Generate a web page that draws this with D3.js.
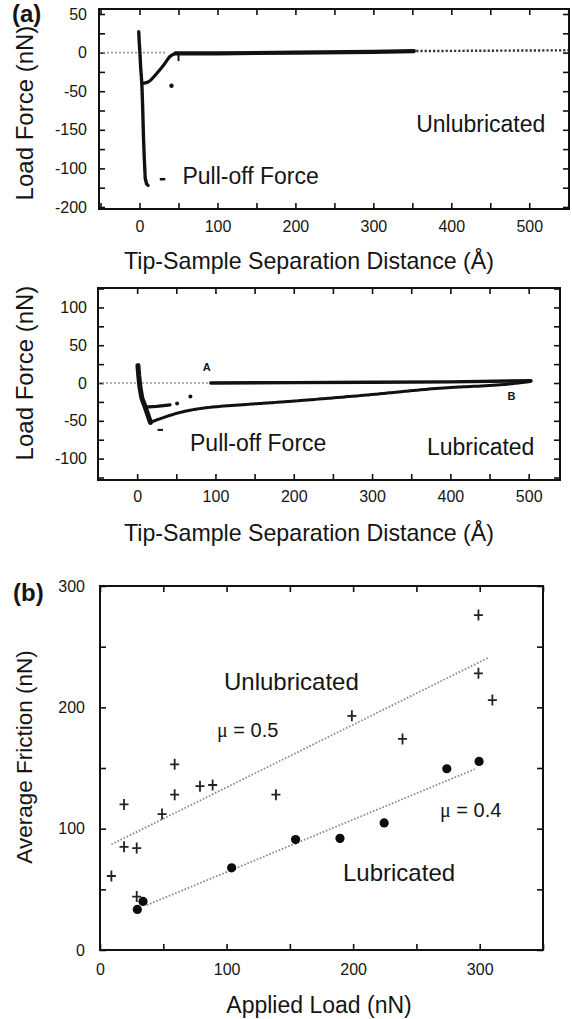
<!DOCTYPE html>
<html><head><meta charset="utf-8">
<script src="https://cdn.jsdelivr.net/npm/d3@7"></script>
<style>
body{margin:0;background:#fff}
svg{display:block}
text{font-family:Arial,"Liberation Sans",sans-serif;fill:#151515}
</style>
</head><body>
<svg id="c" width="572" height="1019"></svg>
<script>
// ---------------- DATA ----------------
// Panel (a) top: unlubricated force-distance curve
const aXTickLabels = [0, 100, 200, 300, 400, 500];
const aXTickValues = [-50, 0, 50, 100, 150, 200, 250, 300, 350, 400, 450, 500, 550];
const aYTickValues = [50, 0, -50, -100, -150, -200];
const aYTickLabels = ["50", "0", "-50", "-150", "-100", "-200"];
const aYMinorValues = [50, 25, 0, -25, -50, -75, -100, -125, -150, -175, -200];
const aApproach = [[-52, 0], [33, 0]];
const aSpike = [[-1, 27], [-0.5, 15], [0.5, 0], [1.5, -20], [3, -40], [4, -70], [5, -107], [6, -135], [7.3, -163], [9, -170], [11, -172]];
const aRecovery = [[3, -40], [11, -38], [22, -27], [31, -16], [39, -5], [46, -1]];
const aBand = [[46, -1], [100, -1], [200, 0], [300, 1], [352, 2]];
const aFar = [[355, 2], [551, 3]];
const aStray = [[41, -43]];
const aBlip = [[50, -1], [50, -10]];

// Panel (a) middle: lubricated force-distance curve
const bXTickLabels = [0, 100, 200, 300, 400, 500];
const bXTickValues = [0, 50, 100, 150, 200, 250, 300, 350, 400, 450, 500];
const bYTickLabels = [100, 50, 0, -50, -100];
const bYMinorValues = [125, 100, 75, 50, 25, 0, -25, -50, -75, -100, -125];
const bApproach = [[-50, 0], [94, 0]];
const bRetract = [[94, 0], [200, 0.5], [300, 1], [400, 1.5], [503, 3]];
const bSpike = [[1, 23], [2, 10], [3.5, -5], [6, -20], [10, -31], [17, -52]];
const bUpper = [[10, -32], [25, -31], [42, -29]];
const bSparse = [[51, -27], [68, -18]];
const bLower = [[17, -52], [30, -47], [51, -40], [94, -32], [105, -31], [186, -25], [292, -16], [385, -7], [478, -1], [503, 2]];

// Panel (b): friction vs load
const cXTickLabels = [0, 100, 200, 300];
const cXTickValues = [0, 50, 100, 150, 200, 250, 300, 350];
const cYTickLabels = [0, 100, 200, 300];
const cYTickValues = [0, 50, 100, 150, 200, 250, 300];
const unlubLoad = [299, 299, 310, 199, 239, 59, 59, 79, 89, 139, 49, 19, 19, 29, 9, 29];
const unlubFriction = [276, 228, 206, 193, 174, 153, 128, 135, 136, 128, 112, 120, 85, 84, 61, 44];
const lubLoad = [29.5, 34, 104, 154.5, 189.6, 224.5, 274, 299.5];
const lubFriction = [33.4, 40, 67.7, 91, 92, 104.7, 149.4, 155.4];
const unlubFit = [[9, 87], [307, 241]];
const lubFit = [[37, 37], [296, 149]];

// ---------------- DRAWING ----------------
const svg = d3.select("#c");

function styleAxis(g, size) {
  g.select(".domain").remove();
  g.attr("font-family", "Arial, 'Liberation Sans', sans-serif").attr("font-size", size || 16);
  g.selectAll(".tick line").attr("stroke", "#111").attr("stroke-width", 1.6);
  g.selectAll(".tick text").attr("fill", "#151515");
}

function frame(xs, ys) {
  const [xa, xb] = xs.range();
  const [ya, yb] = ys.range();
  svg.append("rect").attr("x", xa).attr("y", yb).attr("width", xb - xa).attr("height", ya - yb)
    .attr("fill", "none").attr("stroke", "#111").attr("stroke-width", 2);
}

function axes(xs, ys, o) {
  const [xa, xb] = xs.range();
  const [ya, yb] = ys.range();
  const gb = svg.append("g").attr("transform", `translate(0,${ya})`)
    .call(d3.axisBottom(xs).tickValues(o.xTicks).tickSize(-6).tickPadding(o.xPad)
      .tickFormat(v => o.xLabels.includes(v) ? String(v) : ""));
  styleAxis(gb);
  const gt = svg.append("g").attr("transform", `translate(0,${yb})`)
    .call(d3.axisTop(xs).tickValues(o.xTicks).tickSize(-6).tickFormat(""));
  styleAxis(gt);
  const gl = svg.append("g").attr("transform", `translate(${xa},0)`)
    .call(d3.axisLeft(ys).tickValues(o.yTicks).tickSize(-6).tickPadding(o.yPad).tickFormat(o.yFormat));
  styleAxis(gl);
  const gr = svg.append("g").attr("transform", `translate(${xb},0)`)
    .call(d3.axisRight(ys).tickValues(o.yTicks).tickSize(-6).tickFormat(""));
  styleAxis(gr);
}

function path(xs, ys, pts, stroke, width, dash) {
  const line = d3.line().x(d => xs(d[0])).y(d => ys(d[1])).curve(d3.curveMonotoneX);
  const p = svg.append("path").attr("d", line(pts)).attr("fill", "none")
    .attr("stroke", stroke).attr("stroke-width", width)
    .attr("stroke-linecap", "round").attr("stroke-linejoin", "round");
  if (dash) p.attr("stroke-dasharray", dash);
  return p;
}
function pathLinear(xs, ys, pts, stroke, width, dash, cap) {
  const line = d3.line().x(d => xs(d[0])).y(d => ys(d[1]));
  const p = svg.append("path").attr("d", line(pts)).attr("fill", "none")
    .attr("stroke", stroke).attr("stroke-width", width)
    .attr("stroke-linecap", cap || "round").attr("stroke-linejoin", "round");
  if (dash) p.attr("stroke-dasharray", dash);
  return p;
}

function text(x, y, s, size, opts) {
  const t = svg.append("text").attr("x", x).attr("y", y).attr("font-size", size).text(s);
  if (opts) Object.entries(opts).forEach(([k, v]) => t.attr(k, v));
  return t;
}
function vtitle(cx, cy, s, size) {
  svg.append("text").attr("transform", `translate(${cx},${cy}) rotate(-90)`)
    .attr("text-anchor", "middle").attr("font-size", size).text(s);
}

// ===== Panel (a) top =====
const ax = d3.scaleLinear().domain([-52, 551]).range([99, 569]);
const ay = d3.scaleLinear().domain([-202.6, 56.5]).range([209, 9]);
axes(ax, ay, {
  xTicks: aXTickValues, xLabels: aXTickLabels, xPad: 12,
  yTicks: aYMinorValues, yPad: 12,
  yFormat: v => { const i = aYTickValues.indexOf(v); return i >= 0 ? aYTickLabels[i] : ""; }
});
pathLinear(ax, ay, aApproach, "#9a9a9a", 1.6, "2,2", "butt");
pathLinear(ax, ay, aFar, "#333", 2.4, "2.2,2", "butt");
pathLinear(ax, ay, aBand, "#111", 4.2);
path(ax, ay, aRecovery, "#111", 3.2);
pathLinear(ax, ay, aSpike, "#111", 3.4, "3,0.8");
pathLinear(ax, ay, aBlip, "#111", 2);
svg.selectAll(".astray").data(aStray).enter().append("circle")
  .attr("cx", d => ax(d[0])).attr("cy", d => ay(d[1])).attr("r", 2.2).attr("fill", "#111");
frame(ax, ay);
svg.append("line").attr("x1", ax(26)).attr("x2", ax(33)).attr("y1", ay(-164)).attr("y2", ay(-164))
  .attr("stroke", "#111").attr("stroke-width", 2.5);
text(ax(55), ay(-170), "Pull-off Force", 23);
text(ax(355), ay(-103), "Unlubricated", 23);
text(12, 22, "(a)", 24, {"font-family": "'Liberation Serif','Times New Roman',serif", "font-weight": "bold"});
vtitle(33, 113, "Load Force (nN)", 24);
text(309, 269, "Tip-Sample Separation Distance (Å)", 24, {"text-anchor": "middle", "textLength": 370, "lengthAdjust": "spacingAndGlyphs"});

// ===== Panel (a) middle =====
const bx = d3.scaleLinear().domain([-50, 540]).range([98, 560]);
const by = d3.scaleLinear().domain([-128.3, 125.7]).range([480, 288]);
axes(bx, by, {
  xTicks: bXTickValues, xLabels: bXTickLabels, xPad: 11,
  yTicks: bYMinorValues, yPad: 11,
  yFormat: v => bYTickLabels.includes(v) ? String(v) : ""
});
pathLinear(bx, by, bApproach, "#9a9a9a", 1.6, "2,2", "butt");
path(bx, by, bRetract, "#111", 3.4);
path(bx, by, bLower, "#111", 3, "3,0.8");
pathLinear(bx, by, bUpper, "#111", 3.2);
pathLinear(bx, by, bSpike, "#111", 5);
svg.selectAll(".bsparse").data(bSparse).enter().append("circle")
  .attr("cx", d => bx(d[0])).attr("cy", d => by(d[1])).attr("r", 2).attr("fill", "#111");
frame(bx, by);
text(bx(89), by(16), "A", 11, {"text-anchor": "middle", "font-weight": "bold"});
text(bx(478), by(-22), "B", 11, {"text-anchor": "middle", "font-weight": "bold"});
svg.append("line").attr("x1", bx(26)).attr("x2", bx(33)).attr("y1", by(-62)).attr("y2", by(-62))
  .attr("stroke", "#111").attr("stroke-width", 2);
text(190, 451, "Pull-off Force", 23);
text(427, 455, "Lubricated", 23);
vtitle(33, 373, "Load Force (nN)", 24);
text(309, 541, "Tip-Sample Separation Distance (Å)", 24, {"text-anchor": "middle", "textLength": 370, "lengthAdjust": "spacingAndGlyphs"});

// ===== Panel (b) =====
const cx = d3.scaleLinear().domain([0, 350]).range([100, 543]);
const cy = d3.scaleLinear().domain([0, 300]).range([950, 586]);
axes(cx, cy, {
  xTicks: cXTickValues, xLabels: cXTickLabels, xPad: 14,
  yTicks: cYTickValues, yPad: 15,
  yFormat: v => cYTickLabels.includes(v) ? String(v) : ""
});
pathLinear(cx, cy, unlubFit, "#8a8a8a", 1.8, "1.6,1.8", "butt");
pathLinear(cx, cy, lubFit, "#8a8a8a", 1.8, "1.6,1.8", "butt");
const unlub = unlubLoad.map((l, i) => [l, unlubFriction[i]]);
svg.selectAll(".cross").data(unlub).enter().append("path")
  .attr("d", d => { const X = cx(d[0]), Y = cy(d[1]); return `M${X - 4.5},${Y}h9M${X},${Y - 5.5}v11`; })
  .attr("stroke", "#222").attr("stroke-width", 1.8).attr("fill", "none");
const lub = lubLoad.map((l, i) => [l, lubFriction[i]]);
svg.selectAll(".dot").data(lub).enter().append("circle")
  .attr("cx", d => cx(d[0])).attr("cy", d => cy(d[1])).attr("r", 4.6).attr("fill", "#0c0c0c");
frame(cx, cy);
const serif = {"font-family": "'Liberation Serif','Times New Roman',serif"};
text(224, 690, "Unlubricated", 24, serif);
text(343, 881, "Lubricated", 24, serif);
const mu1 = text(217, 737, "", 20);
mu1.append("tspan").attr("font-family", "'Liberation Serif',serif").text("μ");
mu1.append("tspan").text(" = 0.5");
const mu2 = text(440, 817, "", 20);
mu2.append("tspan").attr("font-family", "'Liberation Serif',serif").text("μ");
mu2.append("tspan").text(" = 0.4");
text(13, 601, "(b)", 24, {"font-family": "'Liberation Serif','Times New Roman',serif", "font-weight": "bold"});
vtitle(32, 757, "Average Friction (nN)", 22.5);
text(319, 1013, "Applied Load (nN)", 23, {"text-anchor": "middle"});
</script>
</body></html>
